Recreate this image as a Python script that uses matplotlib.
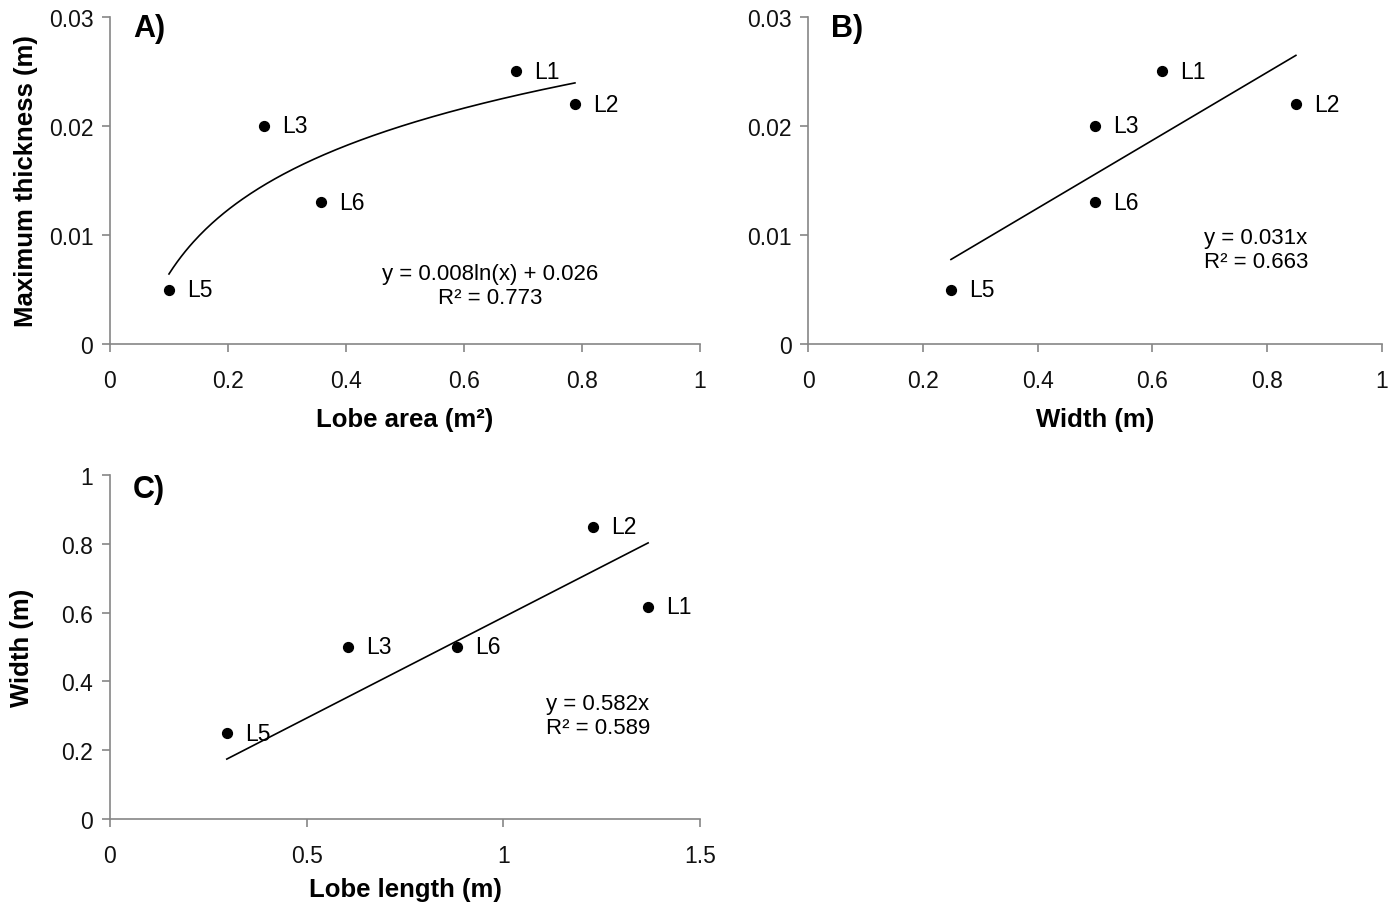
import numpy as np
import matplotlib
matplotlib.use("Agg")
import matplotlib.pyplot as plt
from matplotlib.ticker import FuncFormatter

plt.rcParams['font.family'] = ['Liberation Sans', 'DejaVu Sans']

# lobe data
lobes = ["L1", "L2", "L3", "L6", "L5"]
area = [0.688, 0.788, 0.261, 0.358, 0.100]        # m2
thickness = [0.025, 0.022, 0.020, 0.013, 0.005]   # m
width = [0.617, 0.850, 0.500, 0.500, 0.249]       # m
length = [1.368, 1.228, 0.605, 0.882, 0.297]      # m

eq_a = "y = 0.008ln(x) + 0.026\nR² = 0.773"
eq_b = "y = 0.031x\nR² = 0.663"
eq_c = "y = 0.582x\nR² = 0.589"

gray = "#868686"
fmt = FuncFormatter(lambda v, p: f"{v:g}")

fig = plt.figure(figsize=(13.92, 9.03), dpi=100)
axA = fig.add_axes([0.0790, 0.6179, 0.4239, 0.3622])
axB = fig.add_axes([0.5805, 0.6179, 0.4123, 0.3622])
axC = fig.add_axes([0.0790, 0.0919, 0.4239, 0.3810])


def style(ax, xticks, yticks):
    for s in ["top", "right"]:
        ax.spines[s].set_visible(False)
    for s in ["left", "bottom"]:
        ax.spines[s].set_color(gray)
        ax.spines[s].set_linewidth(1.2)
    ax.set_xticks(xticks)
    ax.set_yticks(yticks)
    ax.set_xlim(xticks[0], xticks[-1])
    ax.set_ylim(yticks[0], yticks[-1])
    ax.xaxis.set_major_formatter(fmt)
    ax.yaxis.set_major_formatter(fmt)
    ax.tick_params(color=gray, width=1.2, length=6, labelsize=16.5,
                   labelcolor="#111111")
    ax.tick_params(axis="x", pad=12)
    ax.tick_params(axis="y", pad=6)


def points(ax, x, y):
    ax.scatter(x, y, s=50, color="black", zorder=3, clip_on=False)
    for name, xi, yi in zip(lobes, x, y):
        ax.annotate(name, (xi, yi), xytext=(13, 0), textcoords="offset points",
                    va="center", ha="left", fontsize=16.5)


# A) log fit
style(axA, np.arange(0, 1.01, 0.2), [0, 0.01, 0.02, 0.03])
points(axA, area, thickness)
b, a = np.polyfit(np.log(area), thickness, 1)
xs = np.linspace(min(area), max(area), 200)
axA.plot(xs, b * np.log(xs) + a, color="black", lw=1.2)
axA.text(0.644, 0.0054, eq_a, ha="center", va="center", fontsize=16,
         multialignment="center", linespacing=1.2)
axA.text(0.039, 0.965, "A)", transform=axA.transAxes, fontsize=22,
         fontweight="bold", va="center")
axA.set_xlabel("Lobe area (m²)", fontsize=18.5, fontweight="bold", labelpad=11)
axA.set_ylabel("Maximum thickness (m)", fontsize=18.5, fontweight="bold", labelpad=8)

# B) linear fit through origin
style(axB, np.arange(0, 1.01, 0.2), [0, 0.01, 0.02, 0.03])
points(axB, width, thickness)
wb = np.array(width)
kb = np.sum(wb * np.array(thickness)) / np.sum(wb ** 2)
xs = np.array([min(width), max(width)])
axB.plot(xs, kb * xs, color="black", lw=1.2)
axB.text(0.690, 0.0087, eq_b, ha="left", va="center", fontsize=16,
         linespacing=1.2)
axB.text(0.04, 0.965, "B)", transform=axB.transAxes, fontsize=22,
         fontweight="bold", va="center")
axB.set_xlabel("Width (m)", fontsize=18.5, fontweight="bold", labelpad=11)

# C) linear fit through origin
style(axC, [0, 0.5, 1, 1.5], np.arange(0, 1.01, 0.2))
points(axC, length, width)
lc = np.array(length)
kc = np.sum(lc * np.array(width)) / np.sum(lc ** 2)
xs = np.array([min(length), max(length)])
axC.plot(xs, kc * xs, color="black", lw=1.2)
axC.text(1.109, 0.30, eq_c, ha="left", va="center", fontsize=16,
         linespacing=1.2)
axC.text(0.039, 0.96, "C)", transform=axC.transAxes, fontsize=22,
         fontweight="bold", va="center")
axC.set_xlabel("Lobe length (m)", fontsize=18.5, fontweight="bold", labelpad=7)
axC.set_ylabel("Width (m)", fontsize=18.5, fontweight="bold", labelpad=20)

fig.savefig("out.png", dpi=100, facecolor="white")
